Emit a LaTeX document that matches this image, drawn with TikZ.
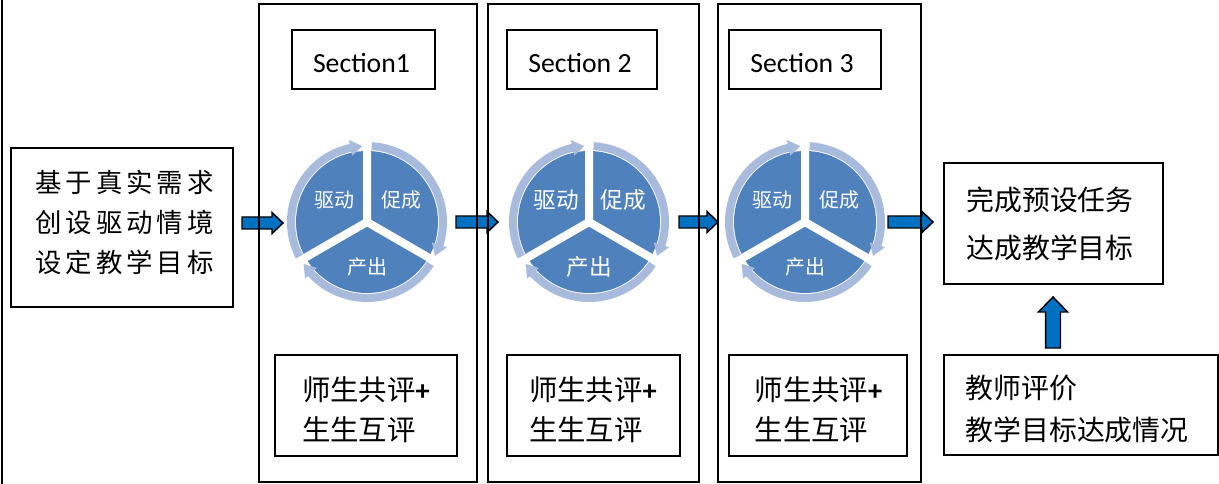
\documentclass[tikz,border=0pt]{standalone}
\usepackage{fontspec}
\setmainfont{Carlito}
\newfontfamily\cjk{Noto Sans CJK SC}
\newfontfamily\cjkwide{Noto Sans CJK SC}[LetterSpace=15]
\newfontfamily\carl{Carlito}
\usetikzlibrary{calc}
\definecolor{arrowblue}{HTML}{0070C0}
\definecolor{segblue}{HTML}{4F81BD}
\definecolor{ringblue}{HTML}{A9BBDC}
\tikzset{
  box/.style={draw, line width=1.2pt, inner sep=0pt},
  txt/.style={inner sep=0pt, align=left},
  barrow/.style={fill=arrowblue, draw=black, line width=1.1pt, line join=miter},
  cyc/.style={text=white, inner sep=0pt},
}
\newcommand\myharrow[2]{\draw[barrow] let \p1=(#1), \p2=(#2) in
  (\x1,\y1+4.5pt) -- (\x2-8.25pt,\y1+4.5pt) -- (\x2-8.25pt,\y1+7.9pt) -- (\x2,\y1)
  -- (\x2-8.25pt,\y1-7.9pt) -- (\x2-8.25pt,\y1-4.5pt) -- (\x1,\y1-4.5pt) -- cycle;}
\newcommand\myvarrow[2]{\draw[barrow] let \p1=(#1), \p2=(#2) in
  (\x1-5.6pt,\y1) -- (\x1-5.6pt,\y2-11.25pt) -- (\x1-10.9pt,\y2-11.25pt) -- (\x1,\y2)
  -- (\x1+10.9pt,\y2-11.25pt) -- (\x1+5.6pt,\y2-11.25pt) -- (\x1+5.6pt,\y1) -- cycle;}
\newcommand\myringarc[2]{\fill[ringblue] (#1:80) arc[start angle=#1, end angle=#2+9, radius=80]
  -- (#2+9:84) -- (#2:76) -- (#2+9:68) -- (#2+9:72)
  arc[start angle=#2+9, end angle=#1, radius=72] -- cycle;}
% #1 centre coordinate, #2 font size, #3 name prefix
\newcommand\mycyclepic[3]{%
  \begin{scope}[shift={(#1)}, yscale=-1]
    \fill[segblue] (0,0) circle[radius=71];
    \draw[white, line width=6pt] (0,0) -- (90:73) (0,0) -- (210:73) (0,0) -- (330:73);
    \myringarc{207}{93.5}
    \myringarc{86.5}{-26.5}
    \myringarc{-33.5}{-146.5}
    \node[cyc, font=\cjk\fontsize{#2}{#2}\selectfont] (#3a) at (-33,22) {驱动};
    \node[cyc, font=\cjk\fontsize{#2}{#2}\selectfont] (#3b) at (34,22) {促成};
    \node[cyc, font=\cjk\fontsize{#2}{#2}\selectfont] (#3c) at (0,-45) {产出};
  \end{scope}}
\begin{document}
\begin{tikzpicture}[x=0.75pt, y=-0.75pt]
\useasboundingbox (0,0) rectangle (1219,484);
% frame line on the left
\draw[line width=1.2pt] (2,0) -- (2,484);
% arrow ends
\coordinate (a0s) at (242,223); \coordinate (a0e) at (283,223);
\coordinate (a1s) at (456,222); \coordinate (a1e) at (498,222);
\coordinate (a2s) at (679,222); \coordinate (a2e) at (718,222);
\coordinate (a3s) at (888,222); \coordinate (a3e) at (933,222);
\coordinate (a4s) at (1053,348); \coordinate (a4e) at (1053,297);
\myharrow{a0s}{a0e}
\myharrow{a1s}{a1e}
\myharrow{a2s}{a2e}
\myharrow{a3s}{a3e}
\myvarrow{a4s}{a4e}
% left box
\node[box, minimum width=166.5pt, minimum height=119.25pt] (L) at (122,227.5) {};
\node[txt, font=\cjkwide\fontsize{19.8pt}{30pt}\selectfont] (Lt) at (124.5,222)
      {基于真实需求\\创设驱动情境\\设定教学目标};
% section frames
\node[box, minimum width=163.5pt, minimum height=358.5pt] (S1) at (368,243) {};
\node[box, minimum width=158.25pt, minimum height=358.5pt] (S2) at (593.5,243) {};
\node[box, minimum width=152.25pt, minimum height=358.5pt] (S3) at (819.5,243) {};
% titles
\node[box, minimum width=107.25pt, minimum height=44.25pt] (T1) at (363.5,59.5) {};
\node[box, minimum width=112.5pt, minimum height=44.25pt] (T2) at (582,59.5) {};
\node[box, minimum width=114pt, minimum height=44.25pt] (T3) at (805,59.5) {};
\node[txt, font=\fontsize{20.8pt}{24pt}\selectfont] (T1t) at (361.5,63) {Section1};
\node[txt, font=\fontsize{20.8pt}{24pt}\selectfont] (T2t) at (580,63) {Section 2};
\node[txt, font=\fontsize{20.8pt}{24pt}\selectfont] (T3t) at (802,63) {Section 3};
% cycles
\coordinate (c1) at (367,222);
\coordinate (c2) at (589,222);
\coordinate (c3) at (805,222);
\mycyclepic{c1}{15pt}{cA}
\mycyclepic{c2}{17pt}{cB}
\mycyclepic{c3}{15pt}{cC}
% evaluation boxes
\node[box, minimum width=136.5pt, minimum height=75.75pt] (B1) at (366,405.5) {};
\node[box, minimum width=129.75pt, minimum height=75.75pt] (B2) at (593.5,405.5) {};
\node[box, minimum width=133.5pt, minimum height=75.75pt] (B3) at (818,405.5) {};
\node[txt, font=\cjk\fontsize{21.3pt}{30pt}\selectfont] (B1t) at (366,410)
      {师生共评{\carl\bfseries +}\\生生互评};
\node[txt, font=\cjk\fontsize{21.3pt}{30pt}\selectfont] (B2t) at (593,410)
      {师生共评{\carl\bfseries +}\\生生互评};
\node[txt, font=\cjk\fontsize{21.3pt}{30pt}\selectfont] (B3t) at (818.5,410)
      {师生共评{\carl\bfseries +}\\生生互评};
% right boxes
\node[box, minimum width=164.25pt, minimum height=90.75pt] (R1) at (1053.5,223.5) {};
\node[txt, font=\cjk\fontsize{20.9pt}{36pt}\selectfont] (R1t) at (1050,224)
      {完成预设任务\\达成教学目标};
\node[box, minimum width=205.5pt, minimum height=75pt] (R2) at (1081,405) {};
\node[txt, font=\cjk\fontsize{20.9pt}{31.5pt}\selectfont] (R2t) at (1077,409)
      {教师评价\\教学目标达成情况};
\end{tikzpicture}
\end{document}
